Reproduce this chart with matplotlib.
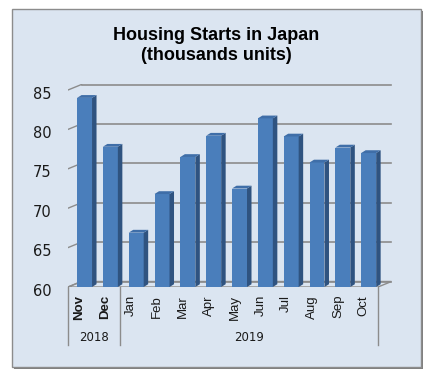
import matplotlib
matplotlib.use("Agg")
import matplotlib.pyplot as plt
from matplotlib.patches import Rectangle, Polygon

months = ["Nov", "Dec", "Jan", "Feb", "Mar", "Apr", "May", "Jun", "Jul", "Aug", "Sep", "Oct"]
starts = [84.0, 77.8, 66.9, 71.8, 76.5, 79.2, 72.5, 81.4, 79.1, 75.8, 77.7, 77.0]
years = ["2018", "2019"]
year_spans = [(0, 1), (2, 11)]
yticks = [60, 65, 70, 75, 80, 85]

W, H = 437, 380
fig = plt.figure(figsize=(W / 100, H / 100), dpi=100)
fig.patch.set_facecolor("white")

# chart frame with a small drop shadow
fig.patches.append(Rectangle((14 / W, 1 - 369 / H), 409 / W, 358 / H, transform=fig.transFigure,
                             facecolor="#7f7f7f", edgecolor="none", zorder=-2))
fig.patches.append(Rectangle((12 / W, 1 - 367 / H), 409 / W, 358 / H, transform=fig.transFigure,
                             facecolor="#dbe5f1", edgecolor="#8c8c8c", lw=1, zorder=-1))

fig.text(216.5 / W, 1 - 35 / H, "Housing Starts in Japan", ha="center", va="center",
         fontsize=13, fontweight="bold", family="Liberation Sans")
fig.text(216.5 / W, 1 - 56 / H, "(thousands units)", ha="center", va="center",
         fontsize=13, fontweight="bold", family="Liberation Sans")

# plot area in pixels: front plane x 68..378, y(60)=287, 7.88 px per unit
px_cat = 25.83
px_unit = 7.88
left_px, right_px = 68, 392
bot_px, top_px = 287, 84
ax = fig.add_axes([left_px / W, 1 - bot_px / H, (right_px - left_px) / W, (bot_px - top_px) / H])
ax.set_xlim(-0.5, -0.5 + (right_px - left_px) / px_cat)
ax.set_ylim(60, 60 + (bot_px - top_px) / px_unit)
ax.axis("off")

dx = 13.5 / px_cat   # depth offset of the back wall
dy = 5.5 / px_unit
x0, x1 = -0.5, len(months) - 0.5
grid_c = "#8c8c8c"

# floor
ax.add_patch(Polygon([(x0, 60), (x1, 60), (x1 + dx, 60 + dy), (x0 + dx, 60 + dy)],
                     closed=True, facecolor="#dbe5f1", edgecolor=grid_c, lw=1, zorder=1))
# back wall grid and left wall ticks
for v in yticks:
    ax.plot([x0 + dx, x1 + dx], [v + dy, v + dy], color=grid_c, lw=1.2, zorder=1)
    ax.plot([x0, x0 + dx], [v, v + dy], color=grid_c, lw=1, zorder=1)
    ax.annotate(str(v), (x0, v), xytext=(-12, -3), textcoords="offset points",
                ha="right", va="center", fontsize=10.5, family="DejaVu Sans", color="#1a1a1a",
                annotation_clip=False)

# 3D-looking bars
bw = 0.58
shift = 0.14
bdx = 4.5 / px_cat
bdy = 2.8 / px_unit
xs = [i + shift for i in range(len(months))]
ax.bar(xs, [s - 60 for s in starts], bottom=60, width=bw, color="#4a7ebb", zorder=3)
for x, s in zip(xs, starts):
    r = x + bw / 2
    l = x - bw / 2
    ax.add_patch(Polygon([(r, 60), (r, s), (r + bdx, s + bdy), (r + bdx, 60 + bdy)],
                         closed=True, facecolor="#2f5380", edgecolor="none", zorder=3))
    ax.add_patch(Polygon([(l, s), (r, s), (r + bdx, s + bdy), (l + bdx, s + bdy)],
                         closed=True, facecolor="#3f6ea8", edgecolor="none", zorder=3))

# category axis with two levels
lab_top = 60 - 8 / px_unit
for i, m in enumerate(months):
    bold = i < 2
    ax.text(i - 0.05, lab_top, m, rotation=90, ha="center", va="top", fontsize=9.5,
            family="Liberation Sans", fontweight="bold" if bold else "normal", color="#1a1a1a")
sep_bot = 60 - 58 / px_unit
for xb in [x0, 1.5, x1]:
    ax.plot([xb, xb], [60, sep_bot], color=grid_c, lw=1, clip_on=False, zorder=2)
year_y = 60 - 50 / px_unit
for name, (a, b) in zip(years, year_spans):
    ax.text((a + b) / 2, year_y, name, ha="center", va="center", fontsize=8.5,
            family="DejaVu Sans", color="#1a1a1a")

fig.savefig("out.png", dpi=100)
